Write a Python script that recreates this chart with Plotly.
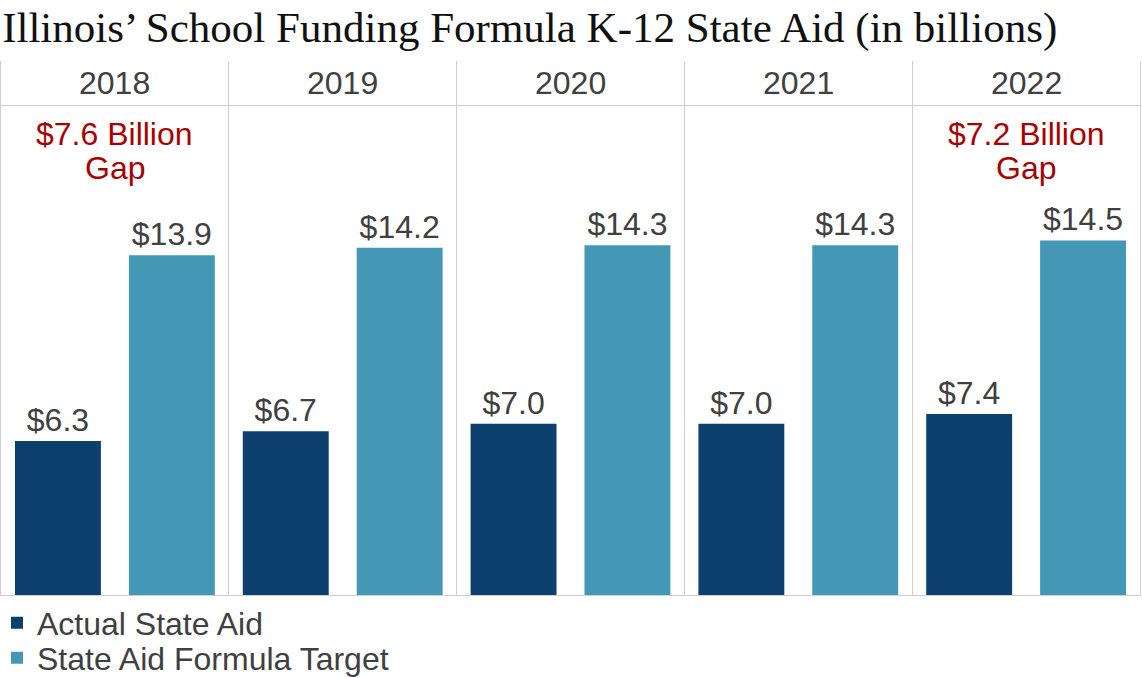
import plotly.graph_objects as go

years = ["2018", "2019", "2020", "2021", "2022"]
actual = [6.3, 6.7, 7.0, 7.0, 7.4]
target = [13.9, 14.2, 14.3, 14.3, 14.5]
gap_years = ["2018", "2022"]
gap_lines = [["$7.6 Billion", "Gap"], ["$7.2 Billion", "Gap"]]
series_names = ["Actual State Aid", "State Aid Formula Target"]
title_text = "Illinois\u2019 School Funding Formula K-12 State Aid (in billions)"

DARK = "#0e406e"
TEAL = "#4498b6"
GRID = "#cfcfcf"
TXT = "#404040"
RED = "#a80000"
SANS = "Liberation Sans, Arial, sans-serif"

fig = go.Figure()
for i, (name, vals, col) in enumerate([(series_names[0], actual, DARK), (series_names[1], target, TEAL)]):
    fig.add_trace(go.Bar(
        x=years, y=vals, name=name, marker=dict(color=col, line=dict(width=0)),
        text=[f"${v:.1f}" for v in vals], textposition="outside", cliponaxis=False,
        constraintext="none",
        textfont=dict(family=SANS, size=32, color=TXT),
        legend="legend" if i == 0 else "legend2",
    ))

annotations = []
for yr in years:
    annotations.append(dict(x=years.index(yr), y=20.92, xref="x", yref="y", text=yr, showarrow=False,
                            font=dict(family=SANS, size=32, color=TXT), yanchor="middle"))
line_y = [18.84, 17.45]
for yr, lines in zip(gap_years, gap_lines):
    for ly, txt in zip(line_y, lines):
        annotations.append(dict(x=years.index(yr), y=ly, xref="x", yref="y", text=txt, showarrow=False,
                                font=dict(family=SANS, size=32, color=RED), yanchor="middle"))

leg_common = dict(orientation="v", x=0, xanchor="left", xref="container", yref="container",
                  yanchor="middle", font=dict(family=SANS, size=32, color=TXT), indentation=-3,
                  itemsizing="constant", bgcolor="rgba(0,0,0,0)")

fig.update_layout(
    width=1142, height=678,
    margin=dict(l=1, r=2, t=61, b=83, autoexpand=False),
    paper_bgcolor="white", plot_bgcolor="white",
    barmode="group", bargap=0.0, bargroupgap=0.2456,
    title=dict(text=title_text, x=0.001, xanchor="left", xref="paper", y=0.983, yanchor="top",
               yref="container",
               font=dict(family="Liberation Serif, Georgia, serif", size=43, color="#111111")),
    xaxis=dict(type="category", range=[-0.5, 4.5], showticklabels=False, ticks="", showgrid=True,
               gridcolor=GRID, gridwidth=1, tickson="boundaries", showline=True, linecolor=GRID,
               linewidth=1, zeroline=False),
    yaxis=dict(range=[0, 21.84], tickvals=[20], showticklabels=False, ticks="", showgrid=True,
               gridcolor=GRID, gridwidth=1, showline=True, mirror=True, linecolor=GRID, linewidth=1,
               zeroline=False),
    legend=dict(y=(678 - 623) / 678, **leg_common),
    legend2=dict(y=(678 - 658) / 678, **leg_common),
    annotations=annotations,
    showlegend=True,
)

fig.write_html("out.html")
